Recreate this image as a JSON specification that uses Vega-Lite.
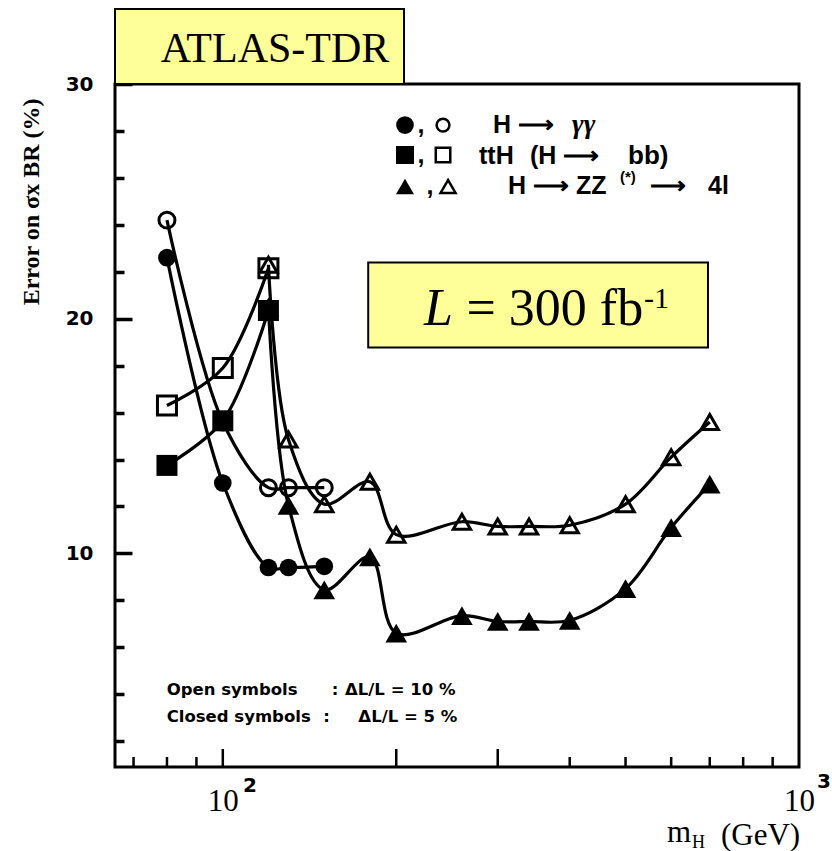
{
  "$schema": "https://vega.github.io/schema/vega-lite/v6.json",
  "width": 684,
  "height": 683,
  "autosize": "none",
  "padding": {"left": 115, "top": 84, "right": 33, "bottom": 84},
  "background": "white",
  "config": {
    "view": {"stroke": "black", "strokeWidth": 3},
    "axis": {"grid": false, "domain": false, "ticks": true, "tickOpacity": 1, "tickColor": "black", "labelColor": "black", "titleColor": "black", "labelFlush": false, "labelOverlap": false}
  },
  "resolve": {"axis": {"x": "independent", "y": "independent"}},
  "datasets": {
    "curves": [
      {"mH": 80, "err": 24.2, "channel": "γγ", "symbols": "open"},
      {"mH": 100, "err": 15.6, "channel": "γγ", "symbols": "open"},
      {"mH": 120, "err": 12.8, "channel": "γγ", "symbols": "open"},
      {"mH": 130, "err": 12.8, "channel": "γγ", "symbols": "open"},
      {"mH": 150, "err": 12.8, "channel": "γγ", "symbols": "open"},
      {"mH": 80, "err": 22.6, "channel": "γγ", "symbols": "closed"},
      {"mH": 100, "err": 13.0, "channel": "γγ", "symbols": "closed"},
      {"mH": 120, "err": 9.4, "channel": "γγ", "symbols": "closed"},
      {"mH": 130, "err": 9.4, "channel": "γγ", "symbols": "closed"},
      {"mH": 150, "err": 9.45, "channel": "γγ", "symbols": "closed"},
      {"mH": 120, "err": 22.3, "channel": "ZZ", "symbols": "open"},
      {"mH": 130, "err": 14.85, "channel": "ZZ", "symbols": "open"},
      {"mH": 150, "err": 12.1, "channel": "ZZ", "symbols": "open"},
      {"mH": 180, "err": 13.05, "channel": "ZZ", "symbols": "open"},
      {"mH": 200, "err": 10.8, "channel": "ZZ", "symbols": "open"},
      {"mH": 260, "err": 11.35, "channel": "ZZ", "symbols": "open"},
      {"mH": 300, "err": 11.15, "channel": "ZZ", "symbols": "open"},
      {"mH": 340, "err": 11.15, "channel": "ZZ", "symbols": "open"},
      {"mH": 400, "err": 11.2, "channel": "ZZ", "symbols": "open"},
      {"mH": 500, "err": 12.1, "channel": "ZZ", "symbols": "open"},
      {"mH": 600, "err": 14.1, "channel": "ZZ", "symbols": "open"},
      {"mH": 700, "err": 15.6, "channel": "ZZ", "symbols": "open"},
      {"mH": 120, "err": 20.5, "channel": "ZZ", "symbols": "closed"},
      {"mH": 130, "err": 12.05, "channel": "ZZ", "symbols": "closed"},
      {"mH": 150, "err": 8.45, "channel": "ZZ", "symbols": "closed"},
      {"mH": 180, "err": 9.85, "channel": "ZZ", "symbols": "closed"},
      {"mH": 200, "err": 6.6, "channel": "ZZ", "symbols": "closed"},
      {"mH": 260, "err": 7.35, "channel": "ZZ", "symbols": "closed"},
      {"mH": 300, "err": 7.1, "channel": "ZZ", "symbols": "closed"},
      {"mH": 340, "err": 7.1, "channel": "ZZ", "symbols": "closed"},
      {"mH": 400, "err": 7.15, "channel": "ZZ", "symbols": "closed"},
      {"mH": 500, "err": 8.5, "channel": "ZZ", "symbols": "closed"},
      {"mH": 600, "err": 11.1, "channel": "ZZ", "symbols": "closed"},
      {"mH": 700, "err": 12.95, "channel": "ZZ", "symbols": "closed"},
      {"mH": 80, "err": 16.3, "channel": "ttH", "symbols": "open"},
      {"mH": 100, "err": 17.9, "channel": "ttH", "symbols": "open"},
      {"mH": 120, "err": 22.15, "channel": "ttH", "symbols": "open"},
      {"mH": 80, "err": 13.75, "channel": "ttH", "symbols": "closed"},
      {"mH": 100, "err": 15.65, "channel": "ttH", "symbols": "closed"},
      {"mH": 120, "err": 20.35, "channel": "ttH", "symbols": "closed"}
    ],
    "xticks": [
      {"mH": 70, "kind": "minor"},
      {"mH": 80, "kind": "minor"},
      {"mH": 90, "kind": "minor"},
      {"mH": 100, "kind": "major"},
      {"mH": 200, "kind": "major"},
      {"mH": 300, "kind": "major"},
      {"mH": 400, "kind": "minor"},
      {"mH": 500, "kind": "minor"},
      {"mH": 600, "kind": "minor"},
      {"mH": 700, "kind": "minor"},
      {"mH": 800, "kind": "minor"},
      {"mH": 900, "kind": "minor"}
    ]
  },
  "layer": [
    {
      "data": {"values": [{}]},
      "mark": {"type": "rect", "fill": "#ffff99", "stroke": "black", "strokeWidth": 2},
      "encoding": {
        "x": {"datum": 65, "type": "quantitative", "scale": {"type": "log", "domain": [65, 1000], "nice": false}, "axis": null},
        "x2": {"datum": 206.3},
        "y": {"datum": 30, "type": "quantitative", "scale": {"domain": [0.9, 30], "nice": false, "zero": false}, "axis": null},
        "y2": {"datum": 33.2}
      }
    },
    {
      "data": {"values": [{}]},
      "mark": {"type": "rect", "fill": "#ffff99", "stroke": "black", "strokeWidth": 2},
      "encoding": {
        "x": {"datum": 178.8, "type": "quantitative", "scale": {"type": "log", "domain": [65, 1000], "nice": false}, "axis": null},
        "x2": {"datum": 695.1},
        "y": {"datum": 18.77, "type": "quantitative", "scale": {"domain": [0.9, 30], "nice": false, "zero": false}, "axis": null},
        "y2": {"datum": 22.4}
      }
    },
    {
      "data": {"name": "xticks"},
      "transform": [{"filter": "datum.kind === 'major'"}],
      "mark": {"type": "rule", "color": "black", "strokeWidth": 2.5},
      "encoding": {
        "x": {"field": "mH", "type": "quantitative", "scale": {"type": "log", "domain": [65, 1000], "nice": false}, "axis": null},
        "y": {"datum": 0.9, "type": "quantitative", "scale": {"domain": [0.9, 30], "nice": false, "zero": false}, "axis": null},
        "y2": {"datum": 1.667}
      }
    },
    {
      "data": {"name": "xticks"},
      "transform": [{"filter": "datum.kind === 'minor'"}],
      "mark": {"type": "rule", "color": "black", "strokeWidth": 2.5},
      "encoding": {
        "x": {"field": "mH", "type": "quantitative", "scale": {"type": "log", "domain": [65, 1000], "nice": false}, "axis": null},
        "y": {"datum": 0.9, "type": "quantitative", "scale": {"domain": [0.9, 30], "nice": false, "zero": false}, "axis": null},
        "y2": {"datum": 1.326}
      }
    },
    {
      "data": {"name": "curves"},
      "mark": {"type": "line", "interpolate": "catmull-rom", "strokeWidth": 3.2, "color": "black"},
      "encoding": {
        "x": {
          "field": "mH", "type": "quantitative",
          "scale": {"type": "log", "domain": [65, 1000], "nice": false},
          "axis": {
            "orient": "bottom", "values": [100, 1000], "ticks": false,
            "labelExpr": "'10'",
            "labelFont": "Liberation Serif", "labelFontSize": 31, "labelPadding": 19, "labelBaseline": "top",
            "title": null
          }
        },
        "y": {
          "field": "err", "type": "quantitative",
          "scale": {"domain": [0.9, 30], "nice": false, "zero": false},
          "axis": {
            "orient": "left", "values": [10, 20, 30], "tickSize": -17, "tickWidth": 3.5,
            "labelFont": "DejaVu Sans", "labelFontWeight": "bold", "labelFontSize": 20, "labelPadding": 39,
            "title": "Error on σx BR (%)", "titleFont": "Liberation Serif", "titleFontSize": 24, "titleFontWeight": "bold",
            "titleAngle": -90, "titleAlign": "right", "titleBaseline": "middle", "titleX": -84, "titleY": 14
          }
        },
        "detail": [{"field": "channel"}, {"field": "symbols"}]
      }
    },
    {
      "data": {"name": "curves"},
      "transform": [{"filter": "datum.channel === 'γγ' && datum.symbols === 'closed'"}],
      "mark": {"type": "point", "shape": "circle", "filled": true, "size": 314, "color": "black", "opacity": 1},
      "encoding": {
        "x": {"field": "mH", "type": "quantitative", "scale": {"type": "log", "domain": [65, 1000], "nice": false}, "axis": null},
        "y": {
          "field": "err", "type": "quantitative", "scale": {"domain": [0.9, 30], "nice": false, "zero": false},
          "axis": {"orient": "left", "values": [2, 4, 6, 8, 12, 14, 16, 18, 22, 24, 26, 28], "tickSize": -9, "tickWidth": 3.5, "labels": false, "title": null}
        }
      }
    },
    {
      "data": {"name": "curves"},
      "transform": [{"filter": "datum.channel === 'ZZ' && datum.symbols === 'closed'"}],
      "mark": {"type": "point", "shape": "triangle-up", "filled": true, "size": 470, "color": "black", "opacity": 1},
      "encoding": {
        "x": {"field": "mH", "type": "quantitative", "scale": {"type": "log", "domain": [65, 1000], "nice": false}, "axis": null},
        "y": {"field": "err", "type": "quantitative", "scale": {"domain": [0.9, 30], "nice": false, "zero": false}, "axis": null}
      }
    },
    {
      "data": {"name": "curves"},
      "transform": [{"filter": "datum.channel === 'ttH' && datum.symbols === 'closed'"}],
      "mark": {"type": "point", "shape": "square", "filled": true, "size": 441, "color": "black", "opacity": 1},
      "encoding": {
        "x": {"field": "mH", "type": "quantitative", "scale": {"type": "log", "domain": [65, 1000], "nice": false}, "axis": null},
        "y": {"field": "err", "type": "quantitative", "scale": {"domain": [0.9, 30], "nice": false, "zero": false}, "axis": null}
      }
    },
    {
      "data": {"name": "curves"},
      "transform": [{"filter": "datum.channel === 'γγ' && datum.symbols === 'open'"}],
      "mark": {"type": "point", "shape": "circle", "filled": false, "size": 254, "color": "black", "strokeWidth": 3, "opacity": 1},
      "encoding": {
        "x": {"field": "mH", "type": "quantitative", "scale": {"type": "log", "domain": [65, 1000], "nice": false}, "axis": null},
        "y": {"field": "err", "type": "quantitative", "scale": {"domain": [0.9, 30], "nice": false, "zero": false}, "axis": null}
      }
    },
    {
      "data": {"name": "curves"},
      "transform": [{"filter": "datum.channel === 'ZZ' && datum.symbols === 'open'"}],
      "mark": {"type": "point", "shape": "triangle-up", "filled": false, "size": 300, "color": "black", "strokeWidth": 3, "opacity": 1},
      "encoding": {
        "x": {"field": "mH", "type": "quantitative", "scale": {"type": "log", "domain": [65, 1000], "nice": false}, "axis": null},
        "y": {"field": "err", "type": "quantitative", "scale": {"domain": [0.9, 30], "nice": false, "zero": false}, "axis": null}
      }
    },
    {
      "data": {"name": "curves"},
      "transform": [{"filter": "datum.channel === 'ttH' && datum.symbols === 'open'"}],
      "mark": {"type": "point", "shape": "square", "filled": false, "size": 361, "color": "black", "strokeWidth": 3, "opacity": 1},
      "encoding": {
        "x": {"field": "mH", "type": "quantitative", "scale": {"type": "log", "domain": [65, 1000], "nice": false}, "axis": null},
        "y": {"field": "err", "type": "quantitative", "scale": {"domain": [0.9, 30], "nice": false, "zero": false}, "axis": null}
      }
    },
    {
      "data": {"values": [{}]},
      "mark": {"type": "point", "shape": "circle", "filled": true, "size": 314, "color": "black", "opacity": 1},
      "encoding": {
        "x": {"datum": 207.1, "type": "quantitative", "scale": {"type": "log", "domain": [65, 1000], "nice": false}, "axis": null},
        "y": {"datum": 28.25, "type": "quantitative", "scale": {"domain": [0.9, 30], "nice": false, "zero": false}, "axis": null}
      }
    },
    {
      "data": {"values": [{}]},
      "mark": {"type": "point", "shape": "circle", "filled": false, "size": 165, "strokeWidth": 2.5, "color": "black", "opacity": 1},
      "encoding": {
        "x": {"datum": 241.1, "type": "quantitative", "scale": {"type": "log", "domain": [65, 1000], "nice": false}, "axis": null},
        "y": {"datum": 28.25, "type": "quantitative", "scale": {"domain": [0.9, 30], "nice": false, "zero": false}, "axis": null}
      }
    },
    {
      "data": {"values": [{}]},
      "mark": {"type": "point", "shape": "square", "filled": true, "size": 324, "color": "black", "opacity": 1},
      "encoding": {
        "x": {"datum": 207.1, "type": "quantitative", "scale": {"type": "log", "domain": [65, 1000], "nice": false}, "axis": null},
        "y": {"datum": 26.975, "type": "quantitative", "scale": {"domain": [0.9, 30], "nice": false, "zero": false}, "axis": null}
      }
    },
    {
      "data": {"values": [{}]},
      "mark": {"type": "point", "shape": "square", "filled": false, "size": 210, "strokeWidth": 2.5, "color": "black", "opacity": 1},
      "encoding": {
        "x": {"datum": 241.1, "type": "quantitative", "scale": {"type": "log", "domain": [65, 1000], "nice": false}, "axis": null},
        "y": {"datum": 26.975, "type": "quantitative", "scale": {"domain": [0.9, 30], "nice": false, "zero": false}, "axis": null}
      }
    },
    {
      "data": {"values": [{}]},
      "mark": {"type": "point", "shape": "triangle-up", "filled": true, "size": 324, "color": "black", "opacity": 1},
      "encoding": {
        "x": {"datum": 207.1, "type": "quantitative", "scale": {"type": "log", "domain": [65, 1000], "nice": false}, "axis": null},
        "y": {"datum": 25.633, "type": "quantitative", "scale": {"domain": [0.9, 30], "nice": false, "zero": false}, "axis": null}
      }
    },
    {
      "data": {"values": [{}]},
      "mark": {"type": "point", "shape": "triangle-up", "filled": false, "size": 225, "strokeWidth": 2.5, "color": "black", "opacity": 1},
      "encoding": {
        "x": {"datum": 246.0, "type": "quantitative", "scale": {"type": "log", "domain": [65, 1000], "nice": false}, "axis": null},
        "y": {"datum": 25.633, "type": "quantitative", "scale": {"domain": [0.9, 30], "nice": false, "zero": false}, "axis": null}
      }
    },
    {
      "data": {"values": [{}]},
      "mark": {"type": "text", "align": "center", "baseline": "alphabetic", "font": "Liberation Sans", "fontWeight": "bold", "fontSize": 25, "color": "black"},
      "encoding": {
        "x": {"datum": 220.8, "type": "quantitative", "scale": {"type": "log", "domain": [65, 1000], "nice": false}, "axis": null},
        "y": {"datum": 27.91, "type": "quantitative", "scale": {"domain": [0.9, 30], "nice": false, "zero": false}, "axis": null},
        "text": {"value": ","}
      }
    },
    {
      "data": {"values": [{}]},
      "mark": {"type": "text", "align": "center", "baseline": "alphabetic", "font": "Liberation Sans", "fontWeight": "bold", "fontSize": 25, "color": "black"},
      "encoding": {
        "x": {"datum": 220.8, "type": "quantitative", "scale": {"type": "log", "domain": [65, 1000], "nice": false}, "axis": null},
        "y": {"datum": 26.63, "type": "quantitative", "scale": {"domain": [0.9, 30], "nice": false, "zero": false}, "axis": null},
        "text": {"value": ","}
      }
    },
    {
      "data": {"values": [{}]},
      "mark": {"type": "text", "align": "center", "baseline": "alphabetic", "font": "Liberation Sans", "fontWeight": "bold", "fontSize": 25, "color": "black"},
      "encoding": {
        "x": {"datum": 228.8, "type": "quantitative", "scale": {"type": "log", "domain": [65, 1000], "nice": false}, "axis": null},
        "y": {"datum": 25.31, "type": "quantitative", "scale": {"domain": [0.9, 30], "nice": false, "zero": false}, "axis": null},
        "text": {"value": ","}
      }
    },
    {
      "data": {"values": [{}]},
      "mark": {"type": "text", "align": "left", "baseline": "alphabetic", "font": "Liberation Sans", "fontWeight": "bold", "fontSize": 25, "color": "black"},
      "encoding": {
        "x": {"datum": 294.4, "type": "quantitative", "scale": {"type": "log", "domain": [65, 1000], "nice": false}, "axis": null},
        "y": {"datum": 27.9, "type": "quantitative", "scale": {"domain": [0.9, 30], "nice": false, "zero": false}, "axis": null},
        "text": {"value": "H ⟶"}
      }
    },
    {
      "data": {"values": [{}]},
      "mark": {"type": "text", "align": "left", "baseline": "alphabetic", "font": "Liberation Serif", "fontStyle": "italic", "fontWeight": "bold", "fontSize": 28, "color": "black"},
      "encoding": {
        "x": {"datum": 403.7, "type": "quantitative", "scale": {"type": "log", "domain": [65, 1000], "nice": false}, "axis": null},
        "y": {"datum": 27.9, "type": "quantitative", "scale": {"domain": [0.9, 30], "nice": false, "zero": false}, "axis": null},
        "text": {"value": "γγ"}
      }
    },
    {
      "data": {"values": [{}]},
      "mark": {"type": "text", "align": "left", "baseline": "alphabetic", "font": "Liberation Sans", "fontWeight": "bold", "fontSize": 25, "color": "black"},
      "encoding": {
        "x": {"datum": 278.4, "type": "quantitative", "scale": {"type": "log", "domain": [65, 1000], "nice": false}, "axis": null},
        "y": {"datum": 26.59, "type": "quantitative", "scale": {"domain": [0.9, 30], "nice": false, "zero": false}, "axis": null},
        "text": {"value": "ttH"}
      }
    },
    {
      "data": {"values": [{}]},
      "mark": {"type": "text", "align": "left", "baseline": "alphabetic", "font": "Liberation Sans", "fontWeight": "bold", "fontSize": 25, "color": "black"},
      "encoding": {
        "x": {"datum": 341.3, "type": "quantitative", "scale": {"type": "log", "domain": [65, 1000], "nice": false}, "axis": null},
        "y": {"datum": 26.59, "type": "quantitative", "scale": {"domain": [0.9, 30], "nice": false, "zero": false}, "axis": null},
        "text": {"value": "(H ⟶"}
      }
    },
    {
      "data": {"values": [{}]},
      "mark": {"type": "text", "align": "left", "baseline": "alphabetic", "font": "Liberation Sans", "fontWeight": "bold", "fontSize": 26, "color": "black"},
      "encoding": {
        "x": {"datum": 505, "type": "quantitative", "scale": {"type": "log", "domain": [65, 1000], "nice": false}, "axis": null},
        "y": {"datum": 26.59, "type": "quantitative", "scale": {"domain": [0.9, 30], "nice": false, "zero": false}, "axis": null},
        "text": {"value": "bb)"}
      }
    },
    {
      "data": {"values": [{}]},
      "mark": {"type": "text", "align": "left", "baseline": "alphabetic", "font": "Liberation Sans", "fontWeight": "bold", "fontSize": 25, "color": "black"},
      "encoding": {
        "x": {"datum": 312.6, "type": "quantitative", "scale": {"type": "log", "domain": [65, 1000], "nice": false}, "axis": null},
        "y": {"datum": 25.31, "type": "quantitative", "scale": {"domain": [0.9, 30], "nice": false, "zero": false}, "axis": null},
        "text": {"value": "H ⟶ ZZ"}
      }
    },
    {
      "data": {"values": [{}]},
      "mark": {"type": "text", "align": "left", "baseline": "alphabetic", "font": "Liberation Sans", "fontWeight": "bold", "fontSize": 15, "color": "black"},
      "encoding": {
        "x": {"datum": 488.9, "type": "quantitative", "scale": {"type": "log", "domain": [65, 1000], "nice": false}, "axis": null},
        "y": {"datum": 25.83, "type": "quantitative", "scale": {"domain": [0.9, 30], "nice": false, "zero": false}, "axis": null},
        "text": {"value": "(*)"}
      }
    },
    {
      "data": {"values": [{}]},
      "mark": {"type": "text", "align": "left", "baseline": "alphabetic", "font": "Liberation Sans", "fontWeight": "bold", "fontSize": 25, "color": "black"},
      "encoding": {
        "x": {"datum": 551.4, "type": "quantitative", "scale": {"type": "log", "domain": [65, 1000], "nice": false}, "axis": null},
        "y": {"datum": 25.31, "type": "quantitative", "scale": {"domain": [0.9, 30], "nice": false, "zero": false}, "axis": null},
        "text": {"value": "⟶"}
      }
    },
    {
      "data": {"values": [{}]},
      "mark": {"type": "text", "align": "left", "baseline": "alphabetic", "font": "Liberation Sans", "fontWeight": "bold", "fontSize": 25, "color": "black"},
      "encoding": {
        "x": {"datum": 695.1, "type": "quantitative", "scale": {"type": "log", "domain": [65, 1000], "nice": false}, "axis": null},
        "y": {"datum": 25.31, "type": "quantitative", "scale": {"domain": [0.9, 30], "nice": false, "zero": false}, "axis": null},
        "text": {"value": "4l"}
      }
    },
    {
      "data": {"values": [{}]},
      "mark": {"type": "text", "align": "center", "baseline": "alphabetic", "font": "Liberation Serif", "fontSize": 42, "color": "black"},
      "encoding": {
        "x": {"datum": 123.2, "type": "quantitative", "scale": {"type": "log", "domain": [65, 1000], "nice": false}, "axis": null},
        "y": {"datum": 30.94, "type": "quantitative", "scale": {"domain": [0.9, 30], "nice": false, "zero": false}, "axis": null},
        "text": {"value": "ATLAS-TDR"}
      }
    },
    {
      "data": {"values": [{}]},
      "mark": {"type": "text", "align": "left", "baseline": "alphabetic", "font": "Liberation Serif", "fontStyle": "italic", "fontSize": 52, "color": "black"},
      "encoding": {
        "x": {"datum": 223.4, "type": "quantitative", "scale": {"type": "log", "domain": [65, 1000], "nice": false}, "axis": null},
        "y": {"datum": 19.73, "type": "quantitative", "scale": {"domain": [0.9, 30], "nice": false, "zero": false}, "axis": null},
        "text": {"value": "L"}
      }
    },
    {
      "data": {"values": [{}]},
      "mark": {"type": "text", "align": "left", "baseline": "alphabetic", "font": "Liberation Serif", "fontSize": 52, "color": "black"},
      "encoding": {
        "x": {"datum": 264.8, "type": "quantitative", "scale": {"type": "log", "domain": [65, 1000], "nice": false}, "axis": null},
        "y": {"datum": 19.73, "type": "quantitative", "scale": {"domain": [0.9, 30], "nice": false, "zero": false}, "axis": null},
        "text": {"value": "= 300 fb"}
      }
    },
    {
      "data": {"values": [{}]},
      "mark": {"type": "text", "align": "left", "baseline": "alphabetic", "font": "Liberation Serif", "fontSize": 30, "color": "black"},
      "encoding": {
        "x": {"datum": 538.3, "type": "quantitative", "scale": {"type": "log", "domain": [65, 1000], "nice": false}, "axis": null},
        "y": {"datum": 20.44, "type": "quantitative", "scale": {"domain": [0.9, 30], "nice": false, "zero": false}, "axis": null},
        "text": {"value": "-1"}
      }
    },
    {
      "data": {"values": [{}]},
      "mark": {"type": "text", "align": "left", "baseline": "alphabetic", "font": "DejaVu Sans", "fontWeight": "bold", "fontSize": 16.5, "color": "black"},
      "encoding": {
        "x": {"datum": 79.9, "type": "quantitative", "scale": {"type": "log", "domain": [65, 1000], "nice": false}, "axis": null},
        "y": {"datum": 3.968, "type": "quantitative", "scale": {"domain": [0.9, 30], "nice": false, "zero": false}, "axis": null},
        "text": {"value": "Open symbols"}
      }
    },
    {
      "data": {"values": [{}]},
      "mark": {"type": "text", "align": "left", "baseline": "alphabetic", "font": "DejaVu Sans", "fontWeight": "bold", "fontSize": 16.5, "color": "black"},
      "encoding": {
        "x": {"datum": 154.5, "type": "quantitative", "scale": {"type": "log", "domain": [65, 1000], "nice": false}, "axis": null},
        "y": {"datum": 3.968, "type": "quantitative", "scale": {"domain": [0.9, 30], "nice": false, "zero": false}, "axis": null},
        "text": {"value": ":"}
      }
    },
    {
      "data": {"values": [{}]},
      "mark": {"type": "text", "align": "left", "baseline": "alphabetic", "font": "DejaVu Sans", "fontWeight": "bold", "fontSize": 16.5, "color": "black"},
      "encoding": {
        "x": {"datum": 163.0, "type": "quantitative", "scale": {"type": "log", "domain": [65, 1000], "nice": false}, "axis": null},
        "y": {"datum": 3.968, "type": "quantitative", "scale": {"domain": [0.9, 30], "nice": false, "zero": false}, "axis": null},
        "text": {"value": "ΔL/L = 10 %"}
      }
    },
    {
      "data": {"values": [{}]},
      "mark": {"type": "text", "align": "left", "baseline": "alphabetic", "font": "DejaVu Sans", "fontWeight": "bold", "fontSize": 16.5, "color": "black"},
      "encoding": {
        "x": {"datum": 79.9, "type": "quantitative", "scale": {"type": "log", "domain": [65, 1000], "nice": false}, "axis": null},
        "y": {"datum": 2.83, "type": "quantitative", "scale": {"domain": [0.9, 30], "nice": false, "zero": false}, "axis": null},
        "text": {"value": "Closed symbols"}
      }
    },
    {
      "data": {"values": [{}]},
      "mark": {"type": "text", "align": "left", "baseline": "alphabetic", "font": "DejaVu Sans", "fontWeight": "bold", "fontSize": 16.5, "color": "black"},
      "encoding": {
        "x": {"datum": 149.4, "type": "quantitative", "scale": {"type": "log", "domain": [65, 1000], "nice": false}, "axis": null},
        "y": {"datum": 2.83, "type": "quantitative", "scale": {"domain": [0.9, 30], "nice": false, "zero": false}, "axis": null},
        "text": {"value": ":"}
      }
    },
    {
      "data": {"values": [{}]},
      "mark": {"type": "text", "align": "left", "baseline": "alphabetic", "font": "DejaVu Sans", "fontWeight": "bold", "fontSize": 16.5, "color": "black"},
      "encoding": {
        "x": {"datum": 171.9, "type": "quantitative", "scale": {"type": "log", "domain": [65, 1000], "nice": false}, "axis": null},
        "y": {"datum": 2.83, "type": "quantitative", "scale": {"domain": [0.9, 30], "nice": false, "zero": false}, "axis": null},
        "text": {"value": "ΔL/L = 5 %"}
      }
    },
    {
      "data": {"values": [{}]},
      "mark": {"type": "text", "align": "left", "baseline": "alphabetic", "font": "DejaVu Sans", "fontWeight": "bold", "fontSize": 20, "color": "black"},
      "encoding": {
        "x": {"datum": 108.4, "type": "quantitative", "scale": {"type": "log", "domain": [65, 1000], "nice": false}, "axis": null},
        "y": {"datum": -0.165, "type": "quantitative", "scale": {"domain": [0.9, 30], "nice": false, "zero": false}, "axis": null},
        "text": {"value": "2"}
      }
    },
    {
      "data": {"values": [{}]},
      "mark": {"type": "text", "align": "left", "baseline": "alphabetic", "font": "DejaVu Sans", "fontWeight": "bold", "fontSize": 20, "color": "black"},
      "encoding": {
        "x": {"datum": 1074.9, "type": "quantitative", "scale": {"type": "log", "domain": [65, 1000], "nice": false}, "axis": null},
        "y": {"datum": 0.006, "type": "quantitative", "scale": {"domain": [0.9, 30], "nice": false, "zero": false}, "axis": null},
        "text": {"value": "3"}
      }
    },
    {
      "data": {"values": [{}]},
      "mark": {"type": "text", "align": "left", "baseline": "alphabetic", "font": "Liberation Serif", "fontSize": 31, "color": "black"},
      "encoding": {
        "x": {"datum": 590.1, "type": "quantitative", "scale": {"type": "log", "domain": [65, 1000], "nice": false}, "axis": null},
        "y": {"datum": -2.295, "type": "quantitative", "scale": {"domain": [0.9, 30], "nice": false, "zero": false}, "axis": null},
        "text": {"value": "m"}
      }
    },
    {
      "data": {"values": [{}]},
      "mark": {"type": "text", "align": "left", "baseline": "alphabetic", "font": "Liberation Serif", "fontSize": 18, "color": "black"},
      "encoding": {
        "x": {"datum": 652.1, "type": "quantitative", "scale": {"type": "log", "domain": [65, 1000], "nice": false}, "axis": null},
        "y": {"datum": -2.551, "type": "quantitative", "scale": {"domain": [0.9, 30], "nice": false, "zero": false}, "axis": null},
        "text": {"value": "H"}
      }
    },
    {
      "data": {"values": [{}]},
      "mark": {"type": "text", "align": "left", "baseline": "alphabetic", "font": "Liberation Serif", "fontSize": 31, "color": "black"},
      "encoding": {
        "x": {"datum": 732.2, "type": "quantitative", "scale": {"type": "log", "domain": [65, 1000], "nice": false}, "axis": null},
        "y": {"datum": -2.423, "type": "quantitative", "scale": {"domain": [0.9, 30], "nice": false, "zero": false}, "axis": null},
        "text": {"value": "(GeV)"}
      }
    }
  ]
}
